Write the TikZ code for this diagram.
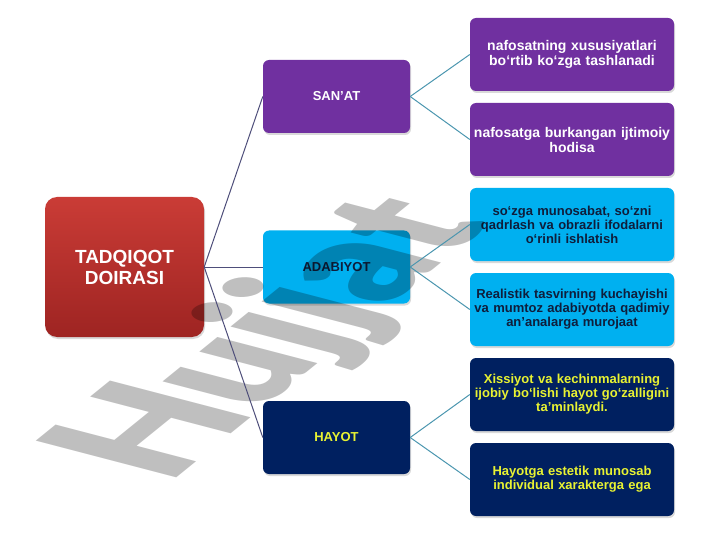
\documentclass[tikz,border=0pt]{standalone}
\usepackage{fontspec}
\setmainfont{Liberation Sans}
\IfFontExistsTF{Lato Black}{\newfontfamily\belgi{Lato Black}}{\newfontfamily\belgi{Liberation Sans Bold}}
\usetikzlibrary{shadows}
\definecolor{binafsha}{RGB}{112,48,160}
\definecolor{moviy}{RGB}{0,176,240}
\definecolor{toqkok}{RGB}{0,32,96}
\definecolor{qoramtir}{RGB}{15,30,60}
\definecolor{sariq}{RGB}{232,242,50}
\definecolor{qizil1}{RGB}{202,60,54}
\definecolor{qizil2}{RGB}{158,36,34}
\definecolor{chiziq1}{RGB}{78,78,122}
\definecolor{chiziq2}{RGB}{75,150,175}
\tikzset{
root node/.style={rounded corners=12pt,minimum width=159pt,minimum height=140pt,
  top color=qizil1,bottom color=qizil2,text=white,align=center,
  font=\fontsize{19}{21}\selectfont\bfseries,
  drop shadow={shadow xshift=1pt,shadow yshift=-2pt,opacity=0.3}},
mid node/.style={rounded corners=6pt,minimum width=147pt,minimum height=73pt,
  align=center,font=\fontsize{13}{14}\selectfont\bfseries,
  drop shadow={shadow xshift=1pt,shadow yshift=-2pt,opacity=0.3}},
leaf node/.style={rounded corners=6pt,minimum width=204pt,minimum height=73pt,
  text width=200pt,inner sep=2pt,align=center,
  font=\fontsize{13}{14}\selectfont\bfseries,
  drop shadow={shadow xshift=1pt,shadow yshift=-2pt,opacity=0.3}},
link/.style={draw=chiziq1,line width=1pt},
leaf link/.style={draw=chiziq2,line width=1pt}}

\begin{document}
\begin{tikzpicture}[x=1pt,y=-1pt]
\useasboundingbox (0,0) rectangle (720,540);

\node[root node] (1) at (124.5,267) {TADQIQOT\\DOIRASI};

\node[mid node,fill=binafsha,text=white] (2) at (336.5,96.5) {SAN’AT};
\node[mid node,fill=moviy,text=qoramtir] (3) at (336.5,267) {ADABIYOT};
\node[mid node,fill=toqkok,text=sariq] (4) at (336.5,437.5) {HAYOT};

\node[leaf node,fill=binafsha,text=white,font=\fontsize{14}{15}\selectfont\bfseries] (5) at (572,54.5)
  {nafosatning xususiyatlari\\boʻrtib koʻzga tashlanadi};
\node[leaf node,fill=binafsha,text=white,font=\fontsize{14}{15}\selectfont\bfseries] (6) at (572,139.5)
  {nafosatga burkangan ijtimoiy\\hodisa};
\node[leaf node,fill=moviy,text=qoramtir] (7) at (572,224.5)
  {soʻzga munosabat, soʻzni\\qadrlash va obrazli ifodalarni\\oʻrinli ishlatish};
\node[leaf node,fill=moviy,text=qoramtir] (8) at (572,309.5)
  {Realistik tasvirning kuchayishi\\va mumtoz adabiyotda qadimiy\\an’analarga murojaat};
\node[leaf node,fill=toqkok,text=sariq] (9) at (572,394.5)
  {Xissiyot va kechinmalarning\\ijobiy boʻlishi hayot goʻzalligini\\ta’minlaydi.};
\node[leaf node,fill=toqkok,text=sariq] (10) at (572,479.5)
  {Hayotga estetik munosab\\individual xarakterga ega};

% watermark
\begin{scope}[shift={(168,485)},cm={0.778,0.630,-1.286,0.336,(0,0)},blend mode=multiply]
\node[anchor=base west,transform shape,inner sep=0pt,text=black!25,
  font=\fontsize{150}{150}\belgi] (11) at (0,0) {Hujjat};
\end{scope}

\path[link]
	(1.east) edge (2.west)
	(1.east) edge (3.west)
	(1.east) edge (4.west);
\path[leaf link]
	(2.east) edge (5.west)
	(2.east) edge (6.west)
	(3.east) edge (7.west)
	(3.east) edge (8.west)
	(4.east) edge (9.west)
	(4.east) edge (10.west);
\end{tikzpicture}
\end{document}
